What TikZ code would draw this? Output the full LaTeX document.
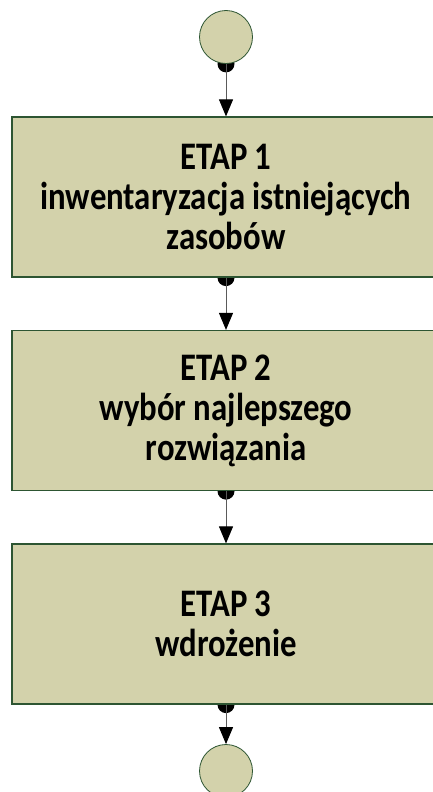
\documentclass[tikz,border=0pt]{standalone}
\usepackage{fontspec}
\setmainfont[FakeStretch=0.84]{Carlito}
\usetikzlibrary{arrows.meta}
\pgfdeclarelayer{background}
\pgfsetlayers{background,main}
\definecolor{stagefill}{RGB}{211,210,171}
\definecolor{stageline}{RGB}{45,85,50}
\definecolor{flowline}{RGB}{90,90,90}
\tikzset{
  stagebox/.style={draw=stageline, line width=1.2pt, fill=stagefill,
    minimum width=428pt, minimum height=160pt, inner sep=0pt,
    align=center, font=\bfseries\fontsize{39}{40}\selectfont},
  terminal/.style={circle, draw=stageline, line width=0.8pt, fill=stagefill,
    minimum size=53pt, inner sep=0pt},
  flow/.style={draw=flowline, line width=1pt,
    -{Triangle[black,length=17pt,width=14pt]}},
  flowdot/.style={fill=black}
}
\newcommand{\flowlink}[2]{%
  \fill[flowdot] (#1.south) circle (8.5pt);
  \draw[flow] (#1.south) -- (#2.north);}
\begin{document}
\begin{tikzpicture}[x=1pt,y=-1pt]
  \useasboundingbox (0,0) rectangle (433,792);
  \node[terminal] (start) at (226,37) {};
  \node[stagebox] (s1) at (226,197) {ETAP 1\\inwentaryzacja istniejących\\zasobów};
  \node[stagebox] (s2) at (226,410.5) {ETAP 2\\wybór najlepszego\\rozwiązania};
  \node[stagebox] (s3) at (226,624) {ETAP 3\\wdrożenie};
  \node[terminal] (stop) at (226,771) {};
  \begin{pgfonlayer}{background}
    \flowlink{start}{s1}
    \flowlink{s1}{s2}
    \flowlink{s2}{s3}
    \flowlink{s3}{stop}
  \end{pgfonlayer}
\end{tikzpicture}
\end{document}
